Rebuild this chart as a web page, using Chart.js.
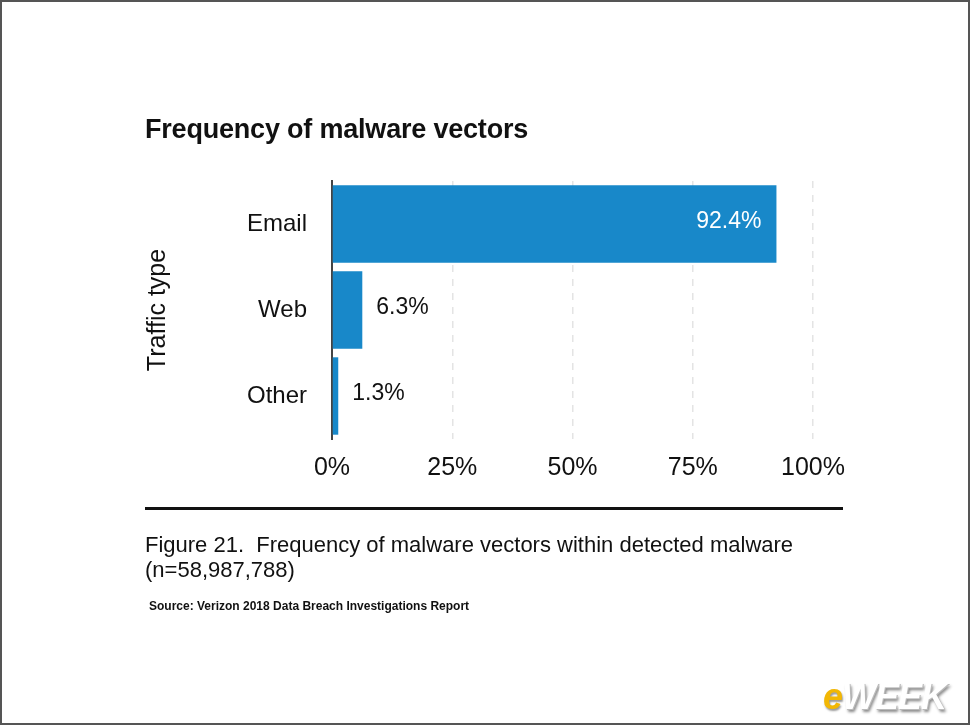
<!DOCTYPE html>
<html>
<head>
<meta charset="utf-8">
<script src="https://cdn.jsdelivr.net/npm/chart.js@4.4.1/dist/chart.umd.min.js"></script>
<style>
  html, body { margin: 0; padding: 0; background: #fff; }
  #page {
    position: relative; width: 970px; height: 725px; overflow: hidden;
    box-sizing: border-box; border: 2px solid #555; background: #fff;
    font-family: "Liberation Sans", Arial, sans-serif; color: #111;
  }
  #chart { position: absolute; left: -2px; top: -2px; }
  .txt { position: absolute; white-space: nowrap; }
  #title { left: 143px; top: 112px; font-size: 27px; font-weight: bold; letter-spacing: -0.2px; }
  #rule { position: absolute; left: 143px; top: 505px; width: 698px; height: 3px; background: #111; }
  #cap1 { left: 143px; top: 530px; font-size: 22px; line-height: 25px; }
  #source { left: 147px; top: 597px; font-size: 12px; font-weight: bold; }
  #logo { right: 22px; top: 674px; font-size: 36px; font-weight: bold; font-style: italic; letter-spacing: -1px; }
  #logo .e { color: #f2b705; text-shadow: 1px 2px 2px #999; }
  #logo .w { color: #fff; text-shadow: 1px 1px 0 #bbb, 2px 3px 3px #888; }
</style>
</head>
<body>
<div id="page">
  <canvas id="chart" width="970" height="725"></canvas>
  <div class="txt" id="title">Frequency of malware vectors</div>
  <div id="rule"></div>
  <div class="txt" id="cap1">Figure 21.&nbsp; Frequency of malware vectors within detected malware<br>(n=58,987,788)</div>
  <div class="txt" id="source">Source: Verizon 2018 Data Breach Investigations Report</div>
  <div class="txt" id="logo"><span class="e">e</span><span class="w">WEEK</span></div>
</div>
<script>
// chart data
var categories = ["Email", "Web", "Other"];
var shares = [92.4, 6.3, 1.3];
var tickValues = [0, 25, 50, 75, 100];

var barColor = "#1888c9";
var fontFamily = "'Liberation Sans', Arial, sans-serif";

// value labels next to / inside the bars
var valueLabels = {
    id: "valueLabels",
    afterDatasetsDraw: function(chart) {
        var ctx = chart.ctx;
        var meta = chart.getDatasetMeta(0);
        ctx.save();
        ctx.font = "23px " + fontFamily;
        ctx.textBaseline = "middle";
        meta.data.forEach(function(bar, i) {
            var text = shares[i].toFixed(1) + "%";
            if (shares[i] > 50) {
                ctx.fillStyle = "#fff";
                ctx.textAlign = "right";
                ctx.fillText(text, bar.x - 15, bar.y - 2);
            } else {
                ctx.fillStyle = "#111";
                ctx.textAlign = "left";
                ctx.fillText(text, bar.x + 14, bar.y - 2);
            }
        });
        ctx.restore();
    }
};

new Chart("chart", {
    type: "bar",
    data: {
        labels: categories,
        datasets: [{
            data: shares,
            backgroundColor: barColor,
            borderWidth: 0,
            categoryPercentage: 1.0,
            barPercentage: 0.9
        }]
    },
    options: {
        indexAxis: "y",
        responsive: false,
        animation: false,
        layout: {
            padding: { left: 142, top: 181, right: 157, bottom: 236 }
        },
        plugins: {
            legend: { display: false },
            tooltip: { enabled: false }
        },
        scales: {
            x: {
                min: 0,
                max: 100,
                afterBuildTicks: function(scale) {
                    scale.ticks = tickValues.map(function(v) { return { value: v }; });
                },
                afterFit: function(scale) { scale.height = 50; },
                ticks: {
                    padding: 14,
                    color: "#111",
                    font: { family: fontFamily, size: 25 },
                    callback: function(v) { return v + "%"; }
                },
                grid: {
                    drawTicks: false,
                    color: function(c) { return c.tick && c.tick.value === 0 ? "rgba(0,0,0,0)" : "#e4e4e4"; },
                    lineWidth: 1.5
                },
                border: { display: false, dash: [7, 7] }
            },
            y: {
                afterFit: function(scale) { scale.width = 190; },
                title: {
                    display: true,
                    text: "Traffic type",
                    color: "#111",
                    font: { family: fontFamily, size: 25 },
                    padding: { top: 1, bottom: 0 }
                },
                ticks: {
                    padding: 25,
                    color: "#111",
                    font: { family: fontFamily, size: 24 }
                },
                grid: { display: false, drawTicks: false },
                border: { display: true, color: "#444", width: 2 }
            }
        }
    },
    plugins: [valueLabels]
});
</script>
</body>
</html>
